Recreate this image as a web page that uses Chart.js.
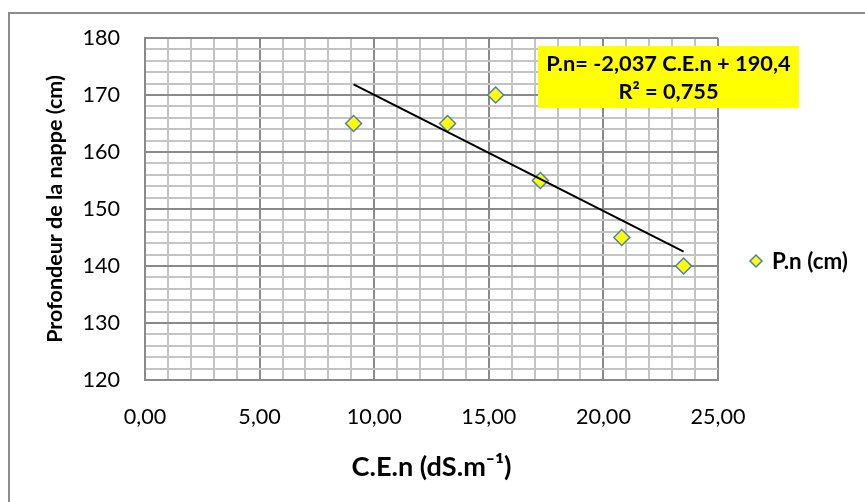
<!DOCTYPE html>
<html>
<head>
<meta charset="utf-8">
<script src="https://cdn.jsdelivr.net/npm/chart.js@4/dist/chart.umd.min.js"></script>
<style>
  html, body { margin: 0; padding: 0; background: #fff; overflow: hidden; }
  #frame { position: absolute; left: 8px; top: 12px; width: 900px; height: 600px; border: 2px solid #8c8c8c; box-sizing: border-box; }
  #wrap { position: absolute; left: 0; top: 0; width: 865px; height: 502px; }
</style>
</head>
<body>
<div id="frame"></div>
<div id="wrap"><canvas id="chart"></canvas></div>
<script>
// Data
const ceValues = [9.1, 13.2, 15.3, 17.25, 20.8, 23.5];     // C.E.n (dS/m)
const depthValues = [165, 165, 170, 155, 145, 140];        // P.n (cm)
const seriesLabel = 'P.n (cm)';
const xTicks = [0, 5, 10, 15, 20, 25];
const yTicks = [120, 130, 140, 150, 160, 170, 180];

// Linear trend shown on the chart
const trendSlope = -2.037;
const trendIntercept = 190.4;
const trendR2 = 0.755;

const FONT = 'Lato, "Open Sans", sans-serif';
const majorGrid = '#8a8a8a';
const minorGrid = '#c4c4c4';

const fr = (v, d) => v.toFixed(d).replace('.', ',');

// pick a font size so the text gets about the width it has in the picture
const measureCtx = document.createElement('canvas').getContext('2d');
const fitSize = (text, weight, width) => {
    measureCtx.font = `${weight} 100px ${FONT}`;
    return Math.round(1000 * width / measureCtx.measureText(text).width) / 10;
};

const eqText = `P.n= ${fr(trendSlope, 3)} C.E.n + ${fr(trendIntercept, 1)}`;
const r2Text = `R² = ${fr(trendR2, 3)}`;
const xTitle = 'C.E.n (dS.m⁻¹)';
const yTitle = 'Profondeur de la nappe (cm)';

const tickSize = fitSize('10,00', 'normal', 55);
const xTitleSize = fitSize(xTitle, 'bold', 160);
const yTitleSize = fitSize(yTitle, 'bold', 268);
const eqSize = fitSize(eqText, 'bold', 245);
const legendSize = fitSize(seriesLabel, 'bold', 76);

// Points for the scatter
const points = ceValues.map((x, i) => ({ x: x, y: depthValues[i] }));

// Trendline from min to max x
const xMin = Math.min(...ceValues);
const xMax = Math.max(...ceValues);
const trendPoints = [xMin, xMax].map(x => ({ x: x, y: trendSlope * x + trendIntercept }));

// Equation box + legend drawn on top
const overlayPlugin = {
    id: 'overlay',
    afterDraw(chart) {
        const ctx = chart.ctx;
        const area = chart.chartArea;
        ctx.save();

        // equation box
        const bx = area.left + 393, by = area.top + 8, bw = 261, bh = 62;
        ctx.fillStyle = '#ffff00';
        ctx.fillRect(bx, by, bw, bh);
        ctx.fillStyle = '#000';
        ctx.font = `bold ${eqSize}px ${FONT}`;
        ctx.textAlign = 'center';
        ctx.textBaseline = 'middle';
        ctx.fillText(eqText, bx + bw / 2, by + 18);
        ctx.fillText(r2Text, bx + bw / 2, by + 46);

        // legend
        const lx = area.right + 38;
        const ly = (area.top + area.bottom) / 2 + 52;
        const r = 6;
        ctx.beginPath();
        ctx.moveTo(lx - r, ly);
        ctx.lineTo(lx, ly - r);
        ctx.lineTo(lx + r, ly);
        ctx.lineTo(lx, ly + r);
        ctx.closePath();
        ctx.fillStyle = '#ffff00';
        ctx.fill();
        ctx.strokeStyle = '#4a7ebb';
        ctx.lineWidth = 1.5;
        ctx.stroke();
        ctx.fillStyle = '#000';
        ctx.font = `bold ${legendSize}px ${FONT}`;
        ctx.textAlign = 'left';
        ctx.fillText(seriesLabel, lx + 16, ly + 1);

        ctx.restore();
    }
};

const gridColor = step => c => (c.tick && Math.round(c.tick.value) % step === 0) ? majorGrid : minorGrid;

const ctx = document.getElementById('chart').getContext('2d');
const chart = new Chart(ctx, {
    type: 'scatter',
    data: {
        datasets: [{
            label: 'trend',
            data: trendPoints,
            type: 'line',
            showLine: true,
            borderColor: '#000',
            borderWidth: 2,
            pointRadius: 0,
            fill: false,
            order: 0
        }, {
            label: seriesLabel,
            data: points,
            pointStyle: 'rectRot',
            pointRadius: 8,
            pointBackgroundColor: '#ffff00',
            pointBorderColor: '#4a7ebb',
            pointBorderWidth: 1.5,
            order: 1
        }]
    },
    options: {
        responsive: true,
        maintainAspectRatio: false,
        animation: false,
        layout: {
            padding: { left: 0, right: 147, top: 37, bottom: 0 }
        },
        plugins: {
            legend: { display: false },
            tooltip: { enabled: false }
        },
        scales: {
            x: {
                type: 'linear',
                min: xTicks[0],
                max: xTicks[xTicks.length - 1],
                afterFit: scale => { scale.height = 122; },
                ticks: {
                    stepSize: 1,
                    autoSkip: false,
                    maxRotation: 0,
                    minRotation: 0,
                    padding: 37 - 0.6 * tickSize,
                    color: '#000',
                    font: { family: FONT, size: tickSize },
                    callback: v => xTicks.includes(v) ? fr(v, 2) : ''
                },
                grid: {
                    drawTicks: false,
                    color: gridColor(5),
                    lineWidth: 2
                },
                border: { display: true, color: majorGrid, width: 2 },
                title: {
                    display: true,
                    text: xTitle,
                    color: '#000',
                    font: { family: FONT, size: xTitleSize, weight: 'bold' },
                    padding: { top: 35 - 0.6 * xTitleSize, bottom: 35 - 0.6 * xTitleSize }
                }
            },
            y: {
                type: 'linear',
                min: yTicks[0],
                max: yTicks[yTicks.length - 1],
                afterFit: scale => { scale.width = 145; },
                ticks: {
                    stepSize: 2,
                    autoSkip: false,
                    padding: 25,
                    color: '#000',
                    font: { family: FONT, size: tickSize },
                    callback: v => yTicks.includes(v) ? String(v) : ''
                },
                grid: {
                    drawTicks: false,
                    color: gridColor(10),
                    lineWidth: 2
                },
                border: { display: true, color: majorGrid, width: 2 },
                title: {
                    display: true,
                    text: yTitle,
                    color: '#000',
                    font: { family: FONT, size: yTitleSize, weight: 'bold' },
                    padding: { top: 55 - 0.6 * yTitleSize, bottom: 55 - 0.6 * yTitleSize }
                }
            }
        }
    },
    plugins: [overlayPlugin]
});
</script>
</body>
</html>
